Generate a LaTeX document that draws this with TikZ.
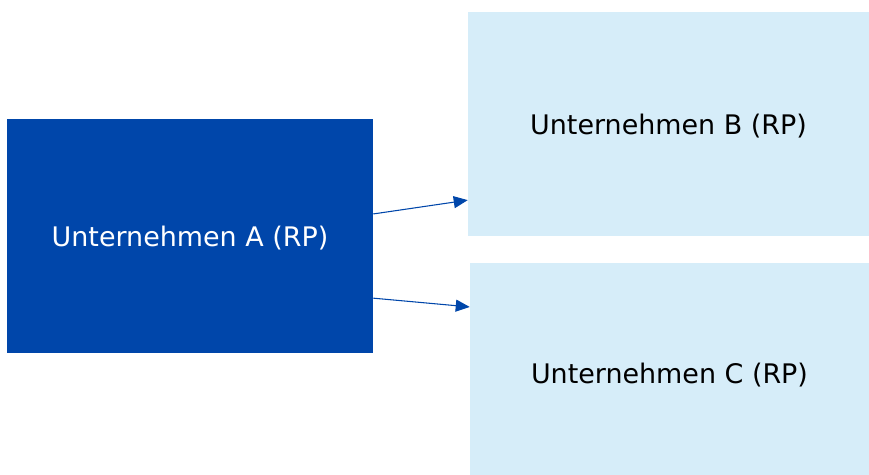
\documentclass[tikz,border=0pt]{standalone}
\usepackage{fontspec}
\setmainfont{DejaVu Sans}
\usepackage{tikz}
\usetikzlibrary{positioning}
\usetikzlibrary{arrows.meta,shapes}
\usetikzlibrary{calc}

\definecolor{rpblue}{RGB}{0,70,170}
\definecolor{rplight}{RGB}{214,237,249}

\begin{document}
\begin{tikzpicture}[x=0.75pt, y=-0.75pt, font=\fontsize{20.2}{24}\selectfont,
  firm/.style={inner sep=0pt, anchor=center, text height=21pt, text depth=4.7pt},
  link/.style={rpblue, line width=0.8pt, -{Triangle[length=10.5pt,width=9pt]}}]
\useasboundingbox (0,0) rectangle (869,475);

\node[firm, fill=rpblue, text=white, minimum width=274.5pt, minimum height=175.5pt] (ua) at (190,236) {Unternehmen A (RP)};
\node[firm, fill=rplight, text=black, minimum width=300.75pt, minimum height=168pt] (ub) at (668.5,124) {Unternehmen B (RP)};
\node[firm, fill=rplight, text=black, minimum width=299.25pt, minimum height=159pt, text height=26pt] (uc) at (669.5,369) {Unternehmen C (RP)};

\draw[link] ($(ua.north east)!0.406!(ua.south east)$) -- ($(ub.north west)!0.839!(ub.south west)$);
\draw[link] ($(ua.north east)!0.765!(ua.south east)$) -- ($(uc.north west)!0.208!(uc.south west)$);

\end{tikzpicture}
\end{document}
